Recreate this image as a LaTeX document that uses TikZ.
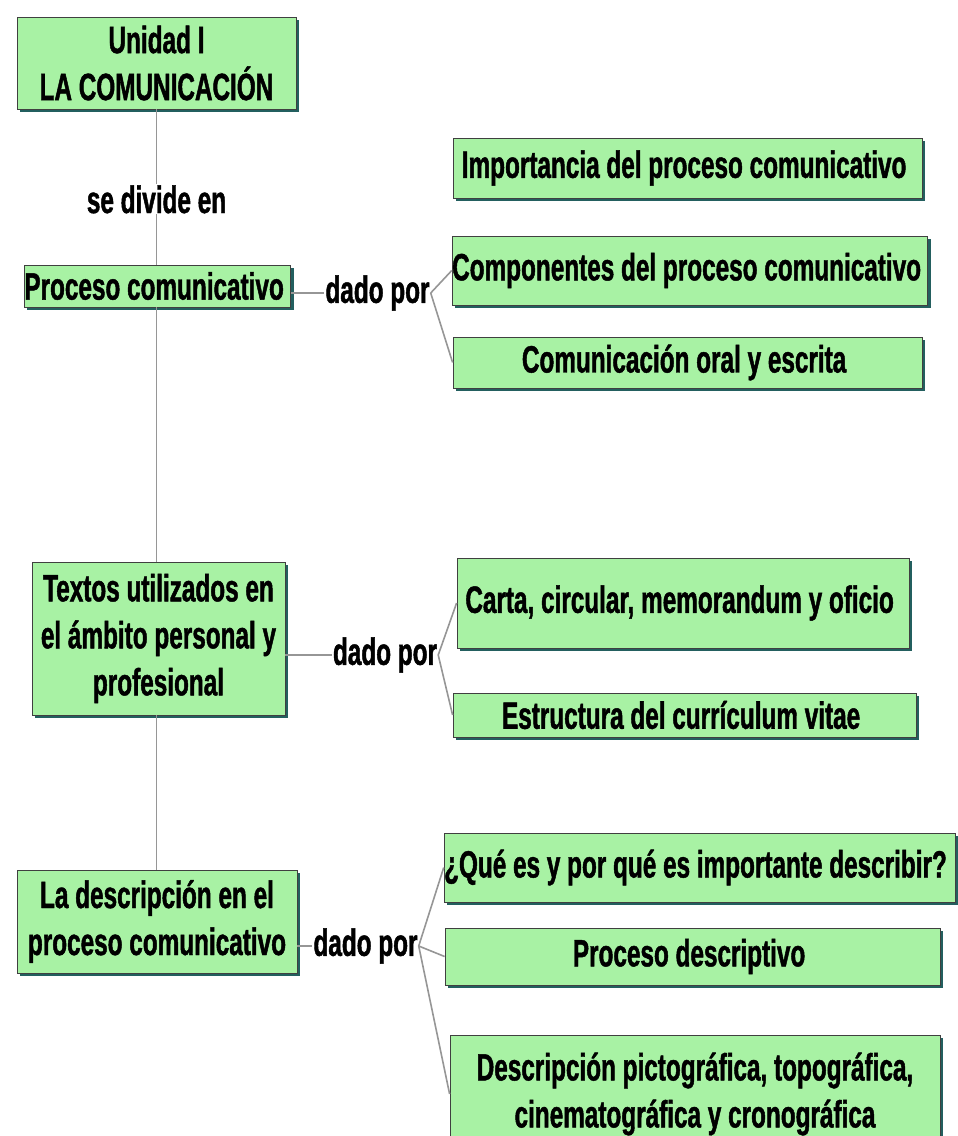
\documentclass[tikz,border=0pt]{standalone}
\usepackage{fontspec}
\setmainfont{Liberation Sans}[FakeStretch=0.64, BoldFeatures={FakeStretch=0.64, FakeBold=1.2}]
\usetikzlibrary{shadows}

\definecolor{boxgreen}{RGB}{168,242,164}
\definecolor{shadeteal}{RGB}{35,95,95}
\definecolor{linegray}{RGB}{150,150,150}

\begin{document}
\begin{tikzpicture}[%
    x=1pt, y=-1pt,              % one unit = one pixel of the sketch
    ]

\tikzset{
  base/.style={draw=black!75, fill=boxgreen, line width=0.8pt, align=center, inner sep=0pt,
    font=\fontsize{38}{47}\selectfont\bfseries,
    drop shadow={shadow xshift=3pt, shadow yshift=-3pt, fill=shadeteal, opacity=1}},
  lbl/.style={font=\fontsize{38}{47}\selectfont\bfseries, inner sep=1pt},
  conn/.style={draw=linegray, line width=1.6pt}
  };

\useasboundingbox (0,0) rectangle (958,1136);

% LEFT column
\node[base, minimum width=279pt, minimum height=92pt] (unidad) at (156.5,63) { Unidad I\\LA COMUNICACIÓN };

\node[base, minimum width=263pt, minimum height=42pt] (proceso) at (157.5,286) { Proceso comunicativo };

\node[base, minimum width=253pt, minimum height=153pt] (textos) at (158.5,638.5) { Textos utilizados en\\el ámbito personal y\\profesional };

\node[base, minimum width=280pt, minimum height=103pt] (descrip) at (157,921.5) { La descripción en el\\proceso comunicativo };

% RIGHT column
\node[base, minimum width=469pt, minimum height=60pt] (imp) at (687.5,168) { Importancia del proceso comunicativo };

\node[base, minimum width=474pt, minimum height=69pt] (comp) at (690,270.5) { Componentes del proceso comunicativo };

\node[base, minimum width=469pt, minimum height=51pt] (oral) at (687.5,362.5) { Comunicación oral y escrita };

\node[base, minimum width=452pt, minimum height=90pt] (carta) at (683,603) { Carta, circular, memorandum y oficio };

\node[base, minimum width=463pt, minimum height=44pt] (estr) at (684.5,715) { Estructura del currículum vitae };

\node[base, minimum width=504pt, minimum height=69pt] (que) at (700,867.5) { ¿Qué es y por qué es importante describir? };

\node[base, minimum width=495pt, minimum height=57pt] (pdesc) at (692.5,956.5) { Proceso descriptivo };

\node[base, minimum width=490pt, minimum height=118pt] (dpict) at (695,1094) { Descripción pictográfica, topográfica,\\cinematográfica y cronográfica };

% LINKS
\node[lbl] (dp1) at (377.5,293) { dado por };
\node[lbl] (dp2) at (385,655) { dado por };
\node[lbl] (dp3) at (365.5,946) { dado por };

\draw[conn] (unidad.south) -- node[lbl, fill=white, pos=0.58] (divide) { se divide en } (unidad.south |- proceso.north);
\draw[conn] (unidad.south |- proceso.south) -- (unidad.south |- textos.north);
\draw[conn] (unidad.south |- textos.south) -- (unidad.south |- descrip.north);

\draw[conn] (proceso.east |- dp1.west) -- (dp1.west);
\draw[conn] (dp1.east) -- (comp.west);
\draw[conn] (dp1.east) -- (oral.west);

\draw[conn] (textos.east |- dp2.west) -- (dp2.west);
\draw[conn] (dp2.east) -- (carta.west);
\draw[conn] (dp2.east) -- (estr.west);

\draw[conn] (descrip.east |- dp3.west) -- (dp3.west);
\draw[conn] (dp3.east) -- (que.west);
\draw[conn] (dp3.east) -- (pdesc.west);
\draw[conn] (dp3.east) -- (dpict.west);

\end{tikzpicture}
\end{document}
